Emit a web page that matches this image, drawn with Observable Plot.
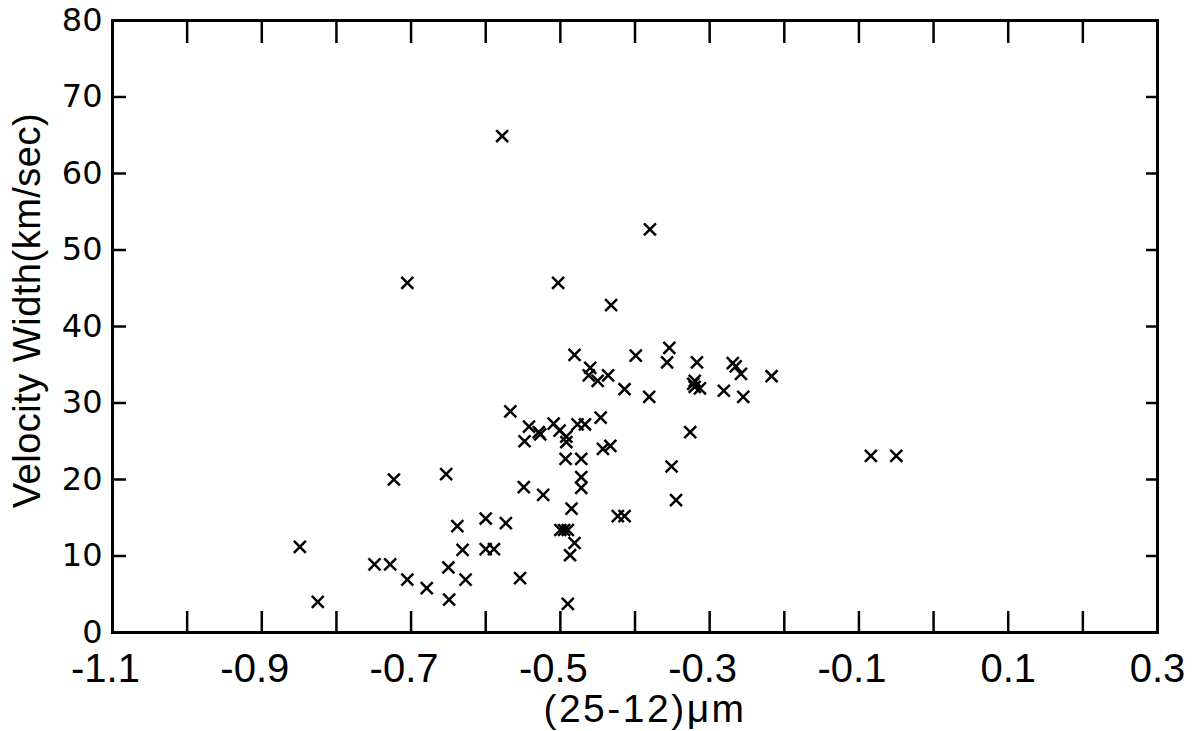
<!DOCTYPE html>
<html>
<head>
<meta charset="utf-8">
<script src="https://cdn.jsdelivr.net/npm/d3@7"></script>
<script src="https://cdn.jsdelivr.net/npm/@observablehq/plot@0.6"></script>
<style>
  html, body { margin: 0; padding: 0; background: #fff; }
  #chart svg { display: block; }
</style>
</head>
<body>
<div id="chart"></div>
<script>
// (25-12) µm colour of each source
const colour = [
  -0.849, -0.825, -0.749, -0.728, -0.723, -0.705, -0.705, -0.679, -0.653, -0.650,
  -0.649, -0.638, -0.631, -0.627, -0.600, -0.600, -0.589, -0.578, -0.573, -0.567,
  -0.554, -0.549, -0.548, -0.542, -0.529, -0.527, -0.523, -0.509, -0.503, -0.501,
  -0.500, -0.495, -0.492, -0.492, -0.493, -0.490, -0.490, -0.487, -0.485, -0.481,
  -0.481, -0.477, -0.472, -0.472, -0.472, -0.467, -0.462, -0.460, -0.450, -0.446,
  -0.443, -0.436, -0.433, -0.432, -0.423, -0.414, -0.414, -0.399, -0.381, -0.380,
  -0.357, -0.354, -0.351, -0.345, -0.326, -0.322, -0.320, -0.320, -0.313, -0.317,
  -0.281, -0.269, -0.265, -0.258, -0.255, -0.217, -0.084, -0.050
];
// velocity width (km/sec) of each source
const velocityWidth = [
  11.2, 4.0, 8.9, 8.9, 20.0, 6.9, 45.7, 5.8, 20.7, 8.5,
  4.3, 13.9, 10.8, 6.9, 14.9, 10.9, 10.9, 64.9, 14.3, 28.9,
  7.1, 19.0, 25.0, 26.9, 26.2, 25.9, 18.0, 27.3, 45.7, 26.4,
  13.4, 13.4, 25.6, 24.9, 22.7, 13.4, 3.75, 10.1, 16.2, 36.3,
  11.7, 27.2, 22.7, 20.3, 18.9, 27.2, 33.6, 34.6, 32.9, 28.1,
  24.0, 33.6, 24.4, 42.8, 15.2, 15.2, 31.8, 36.2, 30.8, 52.7,
  35.3, 37.2, 21.7, 17.3, 26.2, 32.5, 32.9, 32.1, 31.9, 35.3,
  31.6, 35.2, 34.8, 33.8, 30.8, 33.5, 23.1, 23.1
];

const xLabelNeg = [-1.1, -0.9, -0.7, -0.5, -0.3, -0.1];
const xLabelPos = [0.1, 0.3];
const xTickMarks = [-1.0, -0.9, -0.8, -0.7, -0.6, -0.5, -0.4, -0.3, -0.2, -0.1, 0.0, 0.1, 0.2];
const yLabels = [0, 10, 20, 30, 40, 50, 60, 70, 80];
const yTickMarks = [10, 20, 30, 40, 50, 60, 70];

const xTitle = "(25-12)\u03BCm";
const yTitle = "Velocity Width(km/sec)";

const data = colour.map((c, i) => ({c, w: velocityWidth[i]}));

const fmt = d => d.toFixed(1);

const chart = Plot.plot({
  width: 1200,
  height: 731,
  marginLeft: 112,
  marginRight: 43,
  marginTop: 20,
  marginBottom: 99,
  style: {fontFamily: "Liberation Sans, sans-serif", color: "black", background: "white"},
  x: {domain: [-1.1, 0.3], axis: null},
  y: {domain: [0, 80], axis: null},
  marks: [
    // inward tick marks on all four sides
    Plot.axisX(xTickMarks, {anchor: "bottom", tickSize: -21, strokeWidth: 2.5, tickFormat: () => "", label: null}),
    Plot.axisX(xTickMarks, {anchor: "top", tickSize: -22, strokeWidth: 2.5, tickFormat: () => "", label: null}),
    Plot.axisY(yTickMarks, {anchor: "left", tickSize: -14, strokeWidth: 2.5, tickFormat: () => "", label: null}),
    Plot.axisY(yTickMarks, {anchor: "right", tickSize: -12, strokeWidth: 2.5, tickFormat: () => "", label: null}),
    // tick labels
    Plot.axisX(xLabelNeg, {anchor: "bottom", tickSize: 0, tickPadding: 21, tickFormat: fmt, fontSize: 40, dx: -7, label: null}),
    Plot.axisX(xLabelPos, {anchor: "bottom", tickSize: 0, tickPadding: 21, tickFormat: fmt, fontSize: 40, label: null}),
    Plot.axisY(yLabels, {anchor: "left", tickSize: 0, tickPadding: 10, tickFormat: d => String(d), fontSize: 32, fontFamily: "DejaVu Sans", label: null}),
    // frame
    Plot.frame({stroke: "black", strokeWidth: 3}),
    // axis titles
    Plot.text([xTitle], {frameAnchor: "bottom", textAnchor: "middle", dy: 89, dx: 10, fontSize: 39, text: d => d}),
    Plot.text([yTitle], {frameAnchor: "left", textAnchor: "middle", dx: -85, dy: -16, rotate: -90, fontSize: 38, text: d => d}),
    // data
    Plot.dot(data, {x: "c", y: "w", symbol: "times", r: 5.5, stroke: "black", strokeWidth: 2.5})
  ]
});

// letter spacing to match the wide-set lettering of the original
d3.select(chart).selectAll("text").filter(function() { return this.textContent === xTitle; })
  .style("letter-spacing", "2.5px");
d3.select(chart).selectAll("text").filter(function() { return this.textContent === yTitle; })
  .style("letter-spacing", "0.5px");

document.getElementById("chart").append(chart);
</script>
</body>
</html>
